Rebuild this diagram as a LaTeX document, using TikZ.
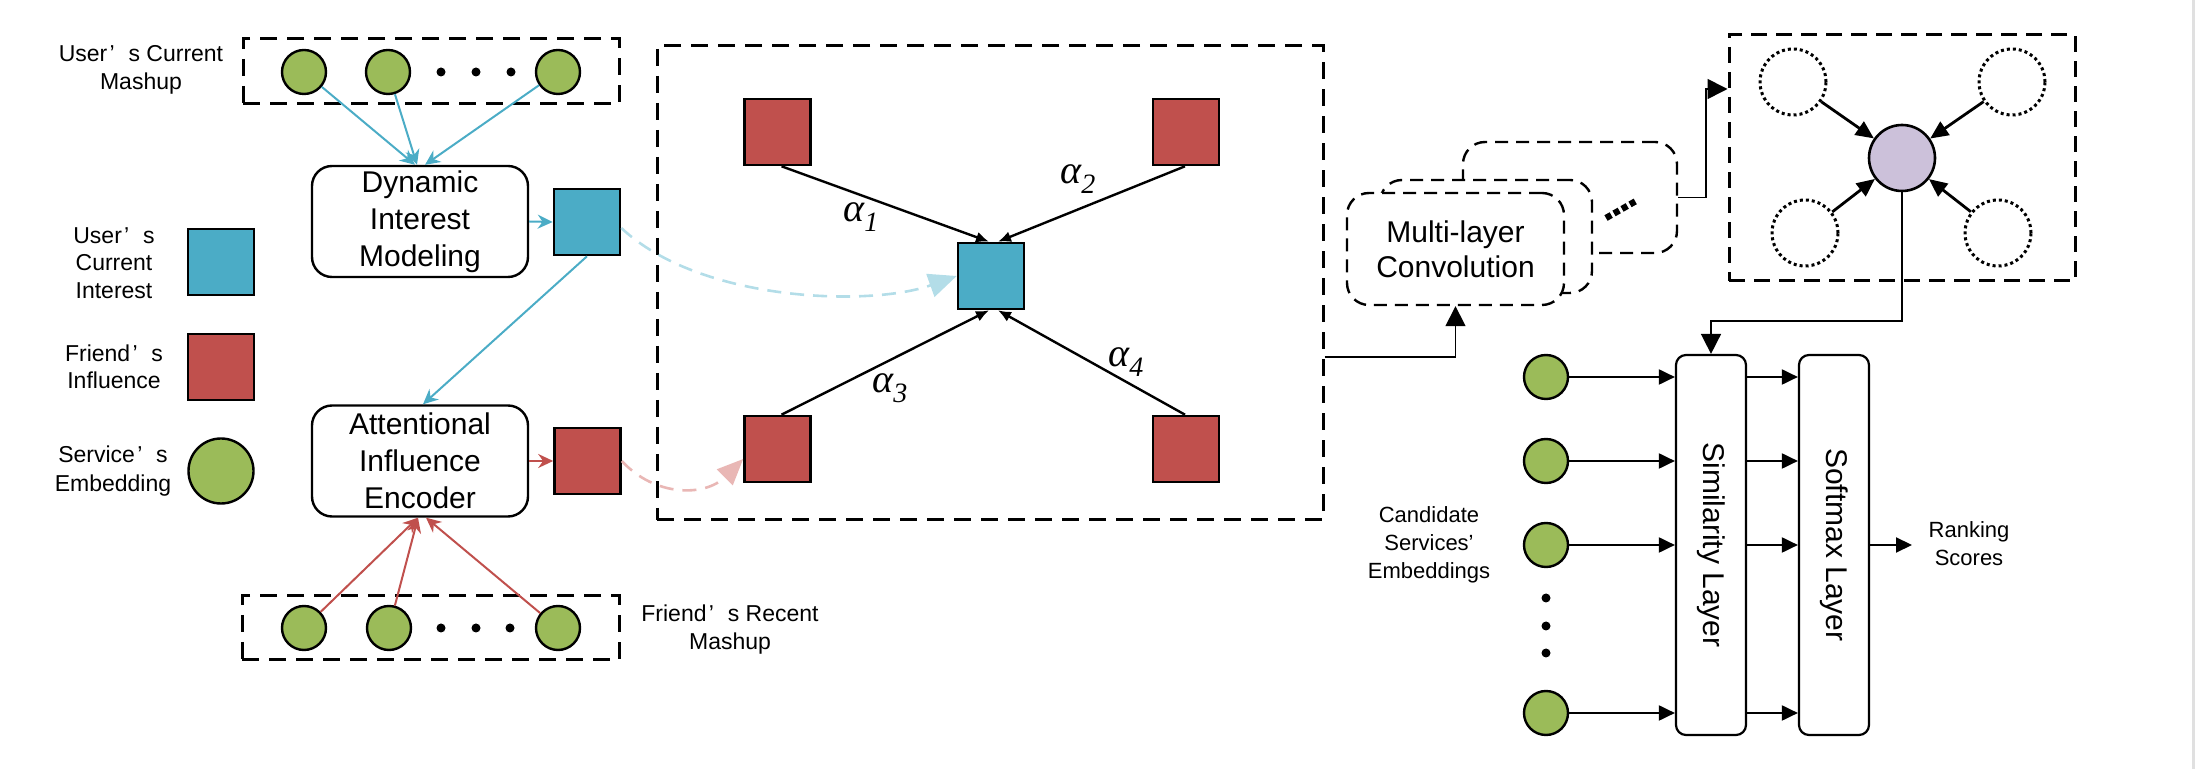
\documentclass[tikz,border=0pt]{standalone}
\usepackage{fontspec}
\setmainfont{Liberation Sans}
\newfontfamily\tms{Liberation Serif}
\usetikzlibrary{arrows.meta,calc}
\definecolor{sgreen}{HTML}{9BBB59}
\definecolor{saqua}{HTML}{4BACC6}
\definecolor{sred}{HTML}{C0504D}
\definecolor{spurple}{HTML}{CCC1DA}
\definecolor{lblue}{HTML}{B3DDE8}
\definecolor{lpink}{HTML}{E9B7B5}
\newcommand\fq{\kern0.1em’\kern0.6em}
\newcommand\alab[1]{{\tms\itshape\fontsize{20}{20}\selectfont α}\raisebox{-5pt}{\tms\itshape\fontsize{14}{14}\selectfont #1}}
\begin{document}
\begin{tikzpicture}[x=0.5pt,y=-0.5pt,
  sq/.style={draw=black,line width=1.3pt,minimum width=33pt,minimum height=33pt,inner sep=0pt},
  bsqs/.style={sq,fill=saqua},
  rsqs/.style={sq,fill=sred},
  gc/.style={circle,draw=black,line width=1.2pt,fill=sgreen,minimum size=22pt,inner sep=0pt},
  dotc/.style={circle,fill=black,minimum size=4.5pt,inner sep=0pt},
  dbox/.style={draw=black,line width=1.5pt,dash pattern=on 8.5pt off 5pt,inner sep=0pt},
  rbox/.style={draw=black,line width=1.2pt,rounded corners=10pt,fill=white,align=center,font=\fontsize{15}{18.5}\selectfont,minimum width=108pt,minimum height=55.5pt,inner sep=0pt},
  mlcbox/.style={draw=black,line width=1.2pt,dash pattern=on 6.5pt off 4pt,rounded corners=11pt,fill=white,align=center,font=\fontsize{15}{17.5}\selectfont,inner sep=0pt},
  layer/.style={draw=black,line width=1.1pt,rounded corners=5pt,fill=white,minimum width=35pt,minimum height=190pt,inner sep=0pt,font=\fontsize{15}{15}\selectfont},
  lbl/.style={align=center,inner sep=0pt,font=\fontsize{11.5}{14}\selectfont},
  dotcirc/.style={circle,draw=black,line width=1.5pt,dash pattern=on 1.5pt off 1.5pt,minimum size=33pt,inner sep=0pt},
  barr/.style={draw=saqua,line width=1pt,-{Stealth[length=7.5pt,width=7pt]}},
  rarr/.style={draw=sred,line width=1pt,-{Stealth[length=7.5pt,width=7pt]}},
  karr/.style={draw=black,line width=1.2pt,-{Latex[length=6.5pt,width=5.5pt]}},
  tarr/.style={draw=black,line width=0.8pt,-{Triangle[length=10pt,width=10pt]}},
  carr/.style={draw=black,line width=1pt,-{Triangle[length=8pt,width=7.5pt]}},
  parr/.style={draw=black,line width=1.4pt,-{Triangle[length=9pt,width=8pt]}},
  lbd/.style={draw=lblue,line width=1.3pt,dash pattern=on 7pt off 4.5pt,-{Triangle[length=14pt,width=12pt]}},
  lpd/.style={draw=lpink,line width=1.3pt,dash pattern=on 7pt off 4.5pt,-{Triangle[length=13pt,width=11pt]}}
]
\useasboundingbox (0,0) rectangle (2197,769);
\draw[draw=black!12,line width=1.5pt] (2193,0) -- (2193,769);

% legend
\node[lbl] (tum) at (141,70) {User\fq s Current\\Mashup};
\node[lbl,font=\fontsize{11.5}{13.75}\selectfont] (tli) at (114,263) {User\fq s\\Current\\Interest};
\node[bsqs] (lbsq) at (221,262) {};
\node[lbl,font=\fontsize{11.5}{13.75}\selectfont] (tlf) at (114,367) {Friend\fq s\\Influence};
\node[rsqs] (lrsq) at (221,367) {};
\node[lbl,font=\fontsize{11.5}{14.5}\selectfont] (tls) at (113,471) {Service\fq s\\Embedding};
\node[gc,minimum size=32.5pt] (lgc) at (221,471) {};

% top mashup
\node[dbox,minimum width=188pt,minimum height=32.5pt] (ubox) at (431,71.5) {};
\node[gc] (u1) at (304,72) {};
\node[gc] (u2) at (388,72) {};
\node[gc] (u3) at (558,72) {};
\node[dotc] (ud1) at (441,72) {};
\node[dotc] (ud2) at (476,72) {};
\node[dotc] (ud3) at (511,72) {};

% bottom mashup
\node[dbox,minimum width=188.5pt,minimum height=32pt] (fbox) at (430.5,628) {};
\node[gc] (f1) at (304,628) {};
\node[gc] (f2) at (389,628) {};
\node[gc] (f3) at (558,628) {};
\node[dotc] (fd1) at (441,628) {};
\node[dotc] (fd2) at (476,628) {};
\node[dotc] (fd3) at (510,628) {};
\node[lbl] (tfm) at (730,630) {Friend\fq s Recent\\Mashup};

% modules
\node[rbox] (dim) at (420,221.5) {Dynamic\\Interest\\Modeling};
\node[rbox] (aie) at (420,461) {Attentional\\Influence\\Encoder};
\node[bsqs] (bsq) at (587,222) {};
\node[rsqs] (rsq) at (587.5,461) {};

\draw[barr] (u1) -- ([xshift=-2.5pt]dim.north);
\draw[barr] (u2) -- ([xshift=-1.5pt]dim.north);
\draw[barr] (u3) -- ([xshift=2.5pt]dim.north);
\draw[barr] (dim.east) -- (bsq.west);
\draw[barr] (bsq.south) -- ([xshift=1.5pt]aie.north);
\draw[rarr] (f1) -- ([xshift=-1pt]aie.south);
\draw[rarr] (f2) -- ([xshift=-1pt]aie.south);
\draw[rarr] (f3) -- ([xshift=3pt]aie.south);
\draw[rarr] (aie.east) -- (rsq.west);

% main attention box
\node[dbox,minimum width=333pt,minimum height=237pt] (mbox) at (990,283) {};
\node[rsqs] (tl) at (777.5,132) {};
\node[rsqs] (tr) at (1186,132) {};
\node[rsqs] (bl) at (777.5,449) {};
\node[rsqs] (br) at (1186,449) {};
\node[bsqs] (csq) at (991,276) {};
\draw[karr] ([xshift=2pt]tl.south) -- ([xshift=-1pt]csq.north);
\draw[karr] ([xshift=-0.5pt]tr.south) -- ([xshift=3.5pt]csq.north);
\draw[karr] ([xshift=2pt]bl.north) -- ([xshift=-1pt]csq.south);
\draw[karr] ([xshift=-0.5pt]br.north) -- ([xshift=3.5pt]csq.south);
\node[anchor=base west,inner sep=0pt] (a1) at (843,222) {\alab{1}};
\node[anchor=base west,inner sep=0pt] (a2) at (1060,184) {\alab{2}};
\node[anchor=base west,inner sep=0pt] (a3) at (872,393) {\alab{3}};
\node[anchor=base west,inner sep=0pt] (a4) at (1108,367) {\alab{4}};

\draw[lbd] ([yshift=-3pt]bsq.east) .. controls (700,302) and (870,307) .. (csq.west);
\draw[lpd] (rsq.east) .. controls (655,497) and (705,497) .. ([yshift=-5pt]bl.west);

% multi-layer convolution
\node[mlcbox,minimum width=107pt,minimum height=55.5pt] (mlc3) at (1570,197.5) {};
\node[mlcbox,minimum width=106pt,minimum height=56.5pt] (mlc2) at (1486,236.5) {};
\node[mlcbox,minimum width=108.5pt,minimum height=56pt] (mlc1) at (1455.5,249) {Multi-layer\\Convolution};
\coordinate (dA) at (1606,218);
\coordinate (dB) at (1636,201);
\draw[line width=3.2pt,dash pattern=on 3pt off 1.6pt] (dA) -- (dB);
\coordinate (ly1) at (0,357);
\draw[tarr] (mbox.east |- ly1) -| (mlc1.south);

% right graph box
\node[dbox,minimum width=173pt,minimum height=123pt,dash pattern=on 8pt off 4.5pt] (rb) at (1902,158) {};
\coordinate (bend) at (1706,89);
\draw[tarr] (mlc3.east) -| (bend) -- (rb.west |- bend);
\node[circle,draw=black,line width=1.3pt,fill=spurple,minimum size=33pt,inner sep=0pt] (pc) at (1902,158) {};
\node[dotcirc] (d1) at (1793,82) {};
\node[dotcirc] (d2) at (2012,82) {};
\node[dotcirc] (d3) at (1805,233) {};
\node[dotcirc] (d4) at (1998,233) {};
\draw[parr] (d1) -- (pc);
\draw[parr] (d2) -- (pc);
\draw[parr] (d3) -- (pc);
\draw[parr] (d4) -- (pc);

% ranking part
\node[layer] (sim) at (1711,545) {\rotatebox{-90}{Similarity Layer}};
\node[layer] (smx) at (1834,545) {\rotatebox{-90}{Softmax Layer}};
\coordinate (ly2) at (0,321);
\draw[tarr] (pc.south) -- (pc.south |- ly2) -| (sim.north);
\node[gc] (c1) at (1546,377) {};
\node[gc] (c2) at (1546,461) {};
\node[gc] (c3) at (1546,545) {};
\node[gc] (c4) at (1546,713) {};
\node[dotc] (cd1) at (1546,598) {};
\node[dotc] (cd2) at (1546,626) {};
\node[dotc] (cd3) at (1546,653) {};
\foreach \c in {c1,c2,c3,c4}{
  \draw[carr] (\c) -- (sim.west |- \c);
  \draw[carr] (sim.east |- \c) -- (smx.west |- \c);
}
\node[lbl,font=\fontsize{11}{14}\selectfont] (tcs) at (1429,545) {Candidate\\Services’\\Embeddings};
\node[lbl,font=\fontsize{11}{14}\selectfont] (trs) at (1969,544) {Ranking\\Scores};
\coordinate (rk) at (1912,545);
\draw[carr] (smx.east) -- (rk);
\end{tikzpicture}
\end{document}
